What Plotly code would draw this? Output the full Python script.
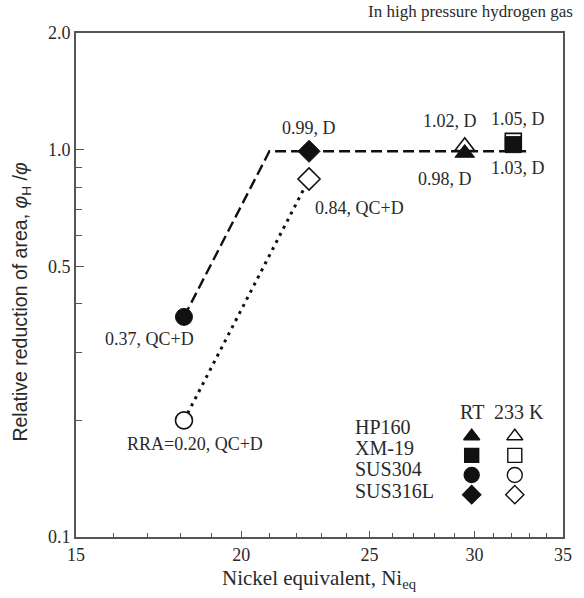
import math
import plotly.graph_objects as go

# Steels tested, nickel equivalent and relative reduction of area (RRA)
materials = ["HP160", "XM-19", "SUS304", "SUS316L"]
ni_eq = [29.5, 32.1, 18.1, 22.5]
rra_rt = [0.98, 1.03, 0.37, 0.99]
rra_233k = [1.02, 1.05, 0.20, 0.84]
mode_rt = ["D", "D", "QC+D", "D"]
mode_233k = ["D", "D", "QC+D", "QC+D"]
symbols = ["triangle-up", "square", "circle", "diamond"]

# Trend guides: room-temperature (dashed) and 233 K (dotted)
rt_trend_x = [18.1, 21.0, 33.0]
rt_trend_y = [0.37, 0.99, 0.99]
low_trend_x = [18.1, 22.5]
low_trend_y = [0.20, 0.84]

x_ticks = [15, 20, 25, 30, 35]
x_minor = [16, 17, 18, 19, 21, 22, 23, 24, 26, 27, 28, 29, 31, 32, 33, 34]
y_ticks = [0.1, 0.5, 1.0, 2.0]
y_ticktext = ["0.1", "0.5", "1.0", "2.0"]
y_minor = [0.2, 0.3, 0.4, 0.6, 0.7, 0.8, 0.9]

SERIF = "Liberation Serif, Times New Roman, serif"
SANS = "Liberation Sans, Arial, sans-serif"
INK = "#111111"
TXT = "#2a2a2a"
AX = "#555555"

marker_size = {"triangle-up": 17, "square": 16, "circle": 17, "diamond": 17}
key_size = {"triangle-up": 14, "square": 14, "circle": 15, "diamond": 14}

fig = go.Figure()

fig.add_trace(go.Scatter(x=rt_trend_x, y=rt_trend_y, mode="lines",
                         line=dict(color=INK, width=2.4, dash="11px,5px"),
                         hoverinfo="skip", showlegend=False))
fig.add_trace(go.Scatter(x=low_trend_x, y=low_trend_y, mode="lines",
                         line=dict(color=INK, width=3, dash="3px,5px"),
                         hoverinfo="skip", showlegend=False))

# 233 K results (open symbols), drawn beneath the RT symbols
for name, x, y, sym in zip(materials, ni_eq, rra_233k, symbols):
    fig.add_trace(go.Scatter(
        x=[x], y=[y], mode="markers", name=name + " 233 K", showlegend=False,
        marker=dict(symbol=sym, size=marker_size[sym], color="white",
                    line=dict(color=INK, width=1.6))))

# Room-temperature results (filled symbols)
for name, x, y, sym in zip(materials, ni_eq, rra_rt, symbols):
    fig.add_trace(go.Scatter(
        x=[x], y=[y], mode="markers", name=name + " RT", showlegend=False,
        marker=dict(symbol=sym, size=marker_size[sym], color=INK,
                    line=dict(color=INK, width=1))))

# Value labels (pixel offsets from each symbol)
rt_offsets = {"HP160": (-20, -26, "center"), "XM-19": (5, -23, "center"),
              "SUS304": (-34, -22, "center"), "SUS316L": (0, 23, "center")}
low_offsets = {"HP160": (-15, 25, "center"), "XM-19": (5, 22, "center"),
               "SUS304": (11, -24, "center"), "SUS316L": (4, -29, "left")}

annotations = []


def value_label(x, y, text, off):
    dx, dy, anchor = off
    annotations.append(dict(
        x=math.log10(x), y=math.log10(y), xref="x", yref="y", text=text,
        showarrow=False, xshift=dx, yshift=dy, xanchor=anchor, yanchor="middle",
        font=dict(family=SERIF, size=18, color=TXT)))


for name, x, y, m in zip(materials, ni_eq, rra_rt, mode_rt):
    value_label(x, y, f"{y:.2f}, {m}", rt_offsets[name])
for name, x, y, m in zip(materials, ni_eq, rra_233k, mode_233k):
    prefix = "RRA=" if name == "SUS304" else ""
    value_label(x, y, f"{prefix}{y:.2f}, {m}", low_offsets[name])

# Symbol key in the lower right of the plot area
key_rows_y = [0.200, 0.162, 0.123, 0.084]
key_text_y = [0.218, 0.177, 0.134, 0.092]
key_col_x = {"RT": 0.8125, "233 K": 0.901}
for i, (name, sym) in enumerate(zip(materials, symbols)):
    annotations.append(dict(x=0.568, y=key_text_y[i], xref="paper", yref="paper",
                            text=name, showarrow=False, xanchor="left",
                            yanchor="middle",
                            font=dict(family=SERIF, size=20, color=TXT)))
    for col, fill in (("RT", INK), ("233 K", "white")):
        fig.add_trace(go.Scatter(
            x=[key_col_x[col]], y=[key_rows_y[i]], xaxis="x2", yaxis="y2",
            mode="markers", showlegend=False, hoverinfo="skip",
            marker=dict(symbol=sym, size=key_size[sym], color=fill,
                        line=dict(color=INK, width=1.4))))
annotations.append(dict(x=0.8125, y=0.249, xref="paper", yref="paper", text="RT",
                        showarrow=False, xanchor="center", yanchor="middle",
                        font=dict(family=SERIF, size=20, color=TXT)))
annotations.append(dict(x=0.909, y=0.249, xref="paper", yref="paper", text="233 K",
                        showarrow=False, xanchor="center", yanchor="middle",
                        font=dict(family=SERIF, size=20, color=TXT)))

annotations.append(dict(x=1.024, y=1.042, xref="paper", yref="paper",
                        text="In high pressure hydrogen gas", showarrow=False,
                        xanchor="right", yanchor="middle",
                        font=dict(family=SERIF, size=17, color=TXT)))
annotations.append(dict(x=0.5, y=-0.083, xref="paper", yref="paper",
                        text="Nickel equivalent, Ni<sub>eq</sub>", showarrow=False,
                        xanchor="center", yanchor="middle",
                        font=dict(family=SERIF, size=21, color=TXT)))
annotations.append(dict(x=-0.112, y=0.468, xref="paper", yref="paper",
                        text="Relative reduction of area, <i>φ</i><sub>H</sub> /<i>φ</i>",
                        showarrow=False, textangle=-90, xanchor="center",
                        yanchor="middle",
                        font=dict(family=SANS, size=19.5, color=TXT)))

fig.update_layout(
    width=584, height=598,
    margin=dict(l=76, r=12, t=33, b=61),
    paper_bgcolor="white", plot_bgcolor="white",
    annotations=annotations,
    xaxis=dict(type="log", range=[math.log10(15), math.log10(35)],
               tickvals=x_ticks, ticktext=[str(v) for v in x_ticks],
               ticks="inside", ticklen=6, tickwidth=1.3, tickcolor=AX,
               minor=dict(tickvals=x_minor, ticks="inside", ticklen=4,
                          tickwidth=1.2, tickcolor=AX, showgrid=False),
               showline=True, linecolor=AX, linewidth=2, mirror=True,
               showgrid=False, zeroline=False,
               tickfont=dict(family=SERIF, size=18, color=TXT)),
    yaxis=dict(type="log", range=[-1, math.log10(2)],
               tickvals=y_ticks, ticktext=y_ticktext,
               ticks="inside", ticklen=8, tickwidth=1.3, tickcolor=AX,
               minor=dict(tickvals=y_minor, ticks="inside", ticklen=6,
                          tickwidth=1.2, tickcolor=AX, showgrid=False),
               showline=True, linecolor=AX, linewidth=2, mirror=True,
               showgrid=False, zeroline=False,
               tickfont=dict(family=SERIF, size=18, color=TXT)),
    xaxis2=dict(overlaying="x", range=[0, 1], visible=False, fixedrange=True),
    yaxis2=dict(overlaying="y", range=[0, 1], visible=False, fixedrange=True),
)

fig.write_html("out.html")
